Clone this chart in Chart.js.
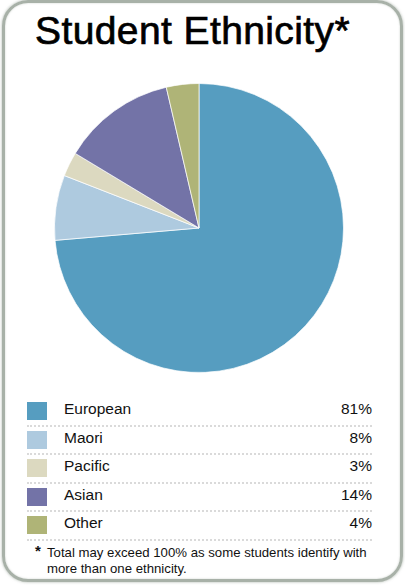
<!DOCTYPE html>
<html>
<head>
<meta charset="utf-8">
<script src="https://cdn.jsdelivr.net/npm/chart.js@4/dist/chart.umd.min.js"></script>
<style>
  html, body { margin: 0; padding: 0; background: #fff; }
  body { width: 405px; height: 588px; position: relative; overflow: hidden; font-family: "Liberation Sans", Arial, sans-serif; }
  .frame {
    position: absolute; left: 2px; top: 0px; width: 395px; height: 576px;
    border: 3px solid #a8b1a8; border-radius: 26px;
    box-shadow: 0 0 3px rgba(120,135,120,0.6), inset 0 0 2px rgba(120,135,120,0.4);
  }
  .title { position: absolute; left: 35px; top: 9px; font-size: 39px; color: #000; letter-spacing: 0.4px; -webkit-text-stroke: 0.7px #000; }
  #pieWrap { position: absolute; left: 54px; top: 83px; width: 290px; height: 290px; }
  .legend { position: absolute; left: 27px; top: 398px; width: 345px; }
  .row { position: relative; height: 26.6px; border-bottom: 2px dotted #dadada; }
  .sw { position: absolute; left: 0; top: 4px; width: 20px; height: 18px; }
  .lab { position: absolute; left: 37px; top: 2px; font-size: 15.5px; color: #111; }
  .val { position: absolute; right: 0; top: 2px; font-size: 15.5px; color: #111; }
  .note { position: absolute; left: 35px; top: 545px; font-size: 13.2px; color: #111; line-height: 16px; }
  .note .star { position: absolute; left: 0; top: -2px; font-size: 15px; font-weight: bold; }
  .note .txt { padding-left: 12px; }
</style>
</head>
<body>
<div class="frame"></div>
<div class="title">Student Ethnicity*</div>
<div id="pieWrap"><canvas id="pie"></canvas></div>
<div class="legend" id="legend"></div>
<div class="note"><span class="star">*</span><div class="txt">Total may exceed 100% as some students identify with<br>more than one ethnicity.</div></div>
<script>
const labels = ['European', 'Maori', 'Pacific', 'Asian', 'Other'];
const percents = [81, 8, 3, 14, 4];
const colors = ['#569dc0', '#aecadf', '#dcd9c0', '#7373a7', '#afb477'];

// legend rows built from the same arrays
const legend = document.getElementById('legend');
labels.forEach((name, i) => {
    const row = document.createElement('div');
    row.className = 'row';
    row.innerHTML = '<div class="sw" style="background:' + colors[i] + '"></div>' +
        '<div class="lab">' + name + '</div>' +
        '<div class="val">' + percents[i] + '%</div>';
    legend.appendChild(row);
});

new Chart(document.getElementById('pie'), {
    type: 'pie',
    data: {
        labels: labels,
        datasets: [{
            data: percents,
            backgroundColor: colors,
            borderColor: 'rgba(255,255,255,0.7)',
            borderWidth: 1
        }]
    },
    options: {
        responsive: true,
        maintainAspectRatio: false,
        animation: false,
        layout: { padding: 0 },
        plugins: { legend: { display: false }, tooltip: { enabled: false } }
    }
});
</script>
</body>
</html>
